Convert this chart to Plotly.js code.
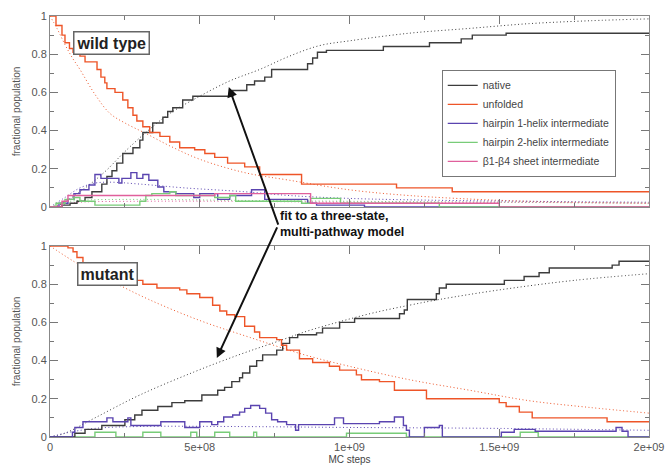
<!DOCTYPE html>
<html>
<head>
<meta charset="utf-8">
<script src="https://cdn.plot.ly/plotly-3.0.1.min.js"></script>
<style>html,body{margin:0;padding:0;background:#fff}#chart{width:665px;height:465px}</style>
</head>
<body>
<div id="chart"></div>
<script>
// x values in units of 1e9 MC steps
const xTickVals = [0, 0.5, 1, 1.5, 2];
const xTickText = ["0", "5e+08", "1e+09", "1.5e+09", "2e+09"];
const seriesNames = ["native", "unfolded", "hairpin 1-helix intermediate", "hairpin 2-helix intermediate", "β1-β4 sheet intermediate"];

// ---- wild type (top panel) ----
const wtNativeX = [0, 0.04, 0.067, 0.09, 0.117, 0.14, 0.173, 0.19, 0.207, 0.223, 0.243, 0.277, 0.3, 0.31, 0.343, 0.377, 0.393, 0.41, 0.443, 0.477, 0.61, 0.657, 0.683, 0.717, 0.74, 0.86, 0.877, 0.893, 0.923, 1.113, 1.267, 1.373, 1.41, 1.523, 2.0];
const wtNativeY = [0, 0.01, 0.02, 0.03, 0.05, 0.08, 0.12, 0.16, 0.19, 0.23, 0.28, 0.31, 0.35, 0.39, 0.44, 0.47, 0.50, 0.52, 0.56, 0.58, 0.61, 0.64, 0.66, 0.68, 0.72, 0.75, 0.78, 0.81, 0.82, 0.84, 0.86, 0.88, 0.90, 0.91, 0.91];
const wtUnfX = [0, 0.02, 0.04, 0.05, 0.065, 0.077, 0.1, 0.117, 0.157, 0.17, 0.183, 0.19, 0.217, 0.243, 0.26, 0.277, 0.29, 0.31, 0.333, 0.367, 0.4, 0.433, 0.483, 0.517, 0.55, 0.593, 0.65, 0.7, 0.84, 1.157, 1.343, 2.0];
const wtUnfY = [1.0, 0.95, 0.9, 0.86, 0.83, 0.81, 0.79, 0.76, 0.72, 0.68, 0.65, 0.62, 0.60, 0.56, 0.52, 0.48, 0.45, 0.42, 0.39, 0.37, 0.34, 0.31, 0.30, 0.28, 0.26, 0.23, 0.21, 0.17, 0.12, 0.10, 0.08, 0.08];
const wtH1X = [0, 0.03, 0.06, 0.08, 0.1, 0.13, 0.15, 0.17, 0.23, 0.24, 0.27, 0.29, 0.31, 0.33, 0.36, 0.38, 0.42, 0.48, 0.5, 0.56, 0.6, 0.673, 0.717, 0.86, 0.89, 1.05, 2.0];
const wtH1Y = [0, 0.02, 0.04, 0.07, 0.09, 0.115, 0.17, 0.15, 0.125, 0.15, 0.18, 0.15, 0.17, 0.14, 0.105, 0.08, 0.07, 0.05, 0.07, 0.04, 0.06, 0.09, 0.04, 0.02, 0.01, 0, 0];
const wtH2X = [0, 0.02, 0.05, 0.08, 0.1, 0.15, 0.3, 0.32, 0.34, 0.4, 0.42, 0.55, 0.6, 0.62, 0.84, 0.87, 0.97, 1.3, 2.0];
const wtH2Y = [0, 0.02, 0.04, 0.05, 0.03, 0.01, 0.03, 0.06, 0.07, 0.08, 0.06, 0.05, 0.06, 0.03, 0.02, 0.045, 0.02, 0, 0];
const wtSheetX = [0, 0.04, 0.06, 0.55, 0.87, 1.5, 2.0];
const wtSheetY = [0, 0.03, 0.06, 0.07, 0.02, 0, 0];
// fitted curves (dotted)
const wtFitNativeX = [0, 0.03, 0.1, 0.18, 0.25, 0.32, 0.4, 0.5, 0.6, 0.7, 0.8, 0.9, 1.0, 1.2, 1.4, 1.6, 1.8, 2.0];
const wtFitNativeY = [0, 0.01, 0.08, 0.18, 0.29, 0.39, 0.49, 0.58, 0.66, 0.72, 0.79, 0.845, 0.87, 0.91, 0.935, 0.96, 0.975, 0.985];
const wtFitUnfX = [0, 0.025, 0.05, 0.075, 0.1, 0.15, 0.2, 0.25, 0.32, 0.4, 0.5, 0.65, 0.8, 1.0, 1.2, 1.5, 1.75, 2.0];
const wtFitUnfY = [1.0, 0.93, 0.85, 0.78, 0.72, 0.59, 0.49, 0.44, 0.385, 0.32, 0.25, 0.18, 0.14, 0.09, 0.06, 0.035, 0.025, 0.02];
const wtFitH1X = [0, 0.05, 0.1, 0.15, 0.2, 0.3, 0.45, 0.65, 0.8, 1.0, 1.3, 1.6, 2.0];
const wtFitH1Y = [0, 0.05, 0.1, 0.125, 0.13, 0.12, 0.10, 0.08, 0.06, 0.045, 0.035, 0.03, 0.025];
const wtFitH2X = [0, 0.05, 0.1, 0.3, 0.6, 1.0, 1.5, 2.0];
const wtFitH2Y = [0, 0.025, 0.035, 0.04, 0.035, 0.03, 0.025, 0.02];
const wtFitSheetX = [0, 0.05, 0.1, 0.3, 0.6, 1.0, 1.5, 2.0];
const wtFitSheetY = [0, 0.015, 0.025, 0.03, 0.03, 0.025, 0.025, 0.02];

// ---- mutant (bottom panel) ----
const mtNativeX = [0, 0.083, 0.117, 0.173, 0.25, 0.283, 0.307, 0.36, 0.407, 0.45, 0.507, 0.56, 0.583, 0.607, 0.633, 0.643, 0.667, 0.69, 0.71, 0.757, 0.777, 0.8, 0.827, 0.89, 0.91, 0.967, 1.017, 1.167, 1.183, 1.193, 1.29, 1.3, 1.323, 1.517, 1.583, 1.633, 1.667, 1.877, 1.9, 2.0];
const mtNativeY = [0, 0.02, 0.04, 0.06, 0.09, 0.115, 0.14, 0.16, 0.18, 0.19, 0.22, 0.245, 0.26, 0.29, 0.31, 0.335, 0.37, 0.40, 0.43, 0.455, 0.49, 0.52, 0.535, 0.545, 0.57, 0.60, 0.62, 0.645, 0.665, 0.72, 0.75, 0.78, 0.80, 0.82, 0.84, 0.86, 0.885, 0.90, 0.92, 0.92];
const mtUnfX = [0, 0.06, 0.077, 0.09, 0.11, 0.133, 0.167, 0.2, 0.243, 0.277, 0.31, 0.357, 0.433, 0.457, 0.5, 0.543, 0.567, 0.59, 0.617, 0.65, 0.683, 0.7, 0.757, 0.773, 0.79, 0.833, 0.877, 0.933, 0.967, 1.023, 1.04, 1.1, 1.15, 1.257, 1.5, 1.523, 1.567, 1.61, 1.86, 2.0];
const mtUnfY = [1.0, 0.99, 0.97, 0.94, 0.91, 0.87, 0.86, 0.85, 0.83, 0.82, 0.80, 0.78, 0.77, 0.75, 0.73, 0.69, 0.66, 0.64, 0.63, 0.58, 0.55, 0.52, 0.51, 0.48, 0.455, 0.41, 0.39, 0.37, 0.35, 0.325, 0.30, 0.29, 0.245, 0.20, 0.18, 0.16, 0.13, 0.10, 0.08, 0.08];
const mtH1X = [0, 0.06, 0.075, 0.083, 0.11, 0.19, 0.21, 0.26, 0.27, 0.37, 0.45, 0.5, 0.54, 0.56, 0.58, 0.61, 0.633, 0.65, 0.67, 0.70, 0.72, 0.74, 0.76, 0.79, 0.82, 0.83, 0.95, 0.98, 1.1, 1.15, 1.18, 1.19, 1.2, 1.25, 1.3, 1.31, 1.507, 1.55, 1.62, 1.89, 1.91, 1.93, 2.0];
const mtH1Y = [0, 0, 0.025, 0.05, 0.08, 0.10, 0.08, 0.10, 0.06, 0.08, 0.05, 0.08, 0.065, 0.08, 0.105, 0.115, 0.13, 0.15, 0.165, 0.15, 0.125, 0.09, 0.08, 0.065, 0.035, 0.065, 0.10, 0.07, 0.08, 0.105, 0.06, 0.035, 0, 0.05, 0.06, 0, 0.025, 0.04, 0.03, 0.05, 0.03, 0, 0];
const mtH2X = [0, 0.15, 0.22, 0.31, 0.37, 0.47, 0.49, 0.55, 0.6, 0.68, 0.69, 0.99, 1.19, 1.57, 1.63, 2.0];
const mtH2Y = [0, 0.025, 0, 0.025, 0, 0.025, 0, 0.025, 0, 0.025, 0, 0.02, 0, 0.025, 0, 0];
const mtFitNativeX = [0, 0.05, 0.15, 0.3, 0.48, 0.63, 0.75, 0.86, 0.97, 1.08, 1.2, 1.3, 1.5, 1.75, 2.0];
const mtFitNativeY = [0, 0.02, 0.1, 0.22, 0.34, 0.43, 0.495, 0.555, 0.605, 0.65, 0.69, 0.72, 0.77, 0.82, 0.855];
const mtFitUnfX = [0, 0.1, 0.2, 0.33, 0.5, 0.67, 0.85, 1.0, 1.2, 1.4, 1.6, 1.8, 2.0];
const mtFitUnfY = [1.0, 0.9, 0.82, 0.72, 0.61, 0.52, 0.43, 0.37, 0.30, 0.245, 0.19, 0.155, 0.125];
const mtFitH1X = [0, 0.05, 0.15, 0.3, 0.6, 1.0, 1.5, 2.0];
const mtFitH1Y = [0, 0.02, 0.045, 0.055, 0.055, 0.05, 0.045, 0.035];

const C = {nat: '#3c3c3c', unf: '#ee5528', h1: '#5a44b0', h2: '#78cc78', sh: '#e0609c'};

function step(x, y, color, name, xa, ya, legend) {
  return {x: x, y: y, type: 'scatter', mode: 'lines', line: {shape: 'hv', color: color, width: 1.4},
          name: name, showlegend: legend, xaxis: xa, yaxis: ya, hoverinfo: 'skip'};
}
function fit(x, y, color, xa, ya) {
  return {x: x, y: y, type: 'scatter', mode: 'lines', line: {shape: 'spline', color: color, width: 1, dash: '1px,2.5px'},
          showlegend: false, xaxis: xa, yaxis: ya, hoverinfo: 'skip'};
}

const data = [
  fit(wtFitNativeX, wtFitNativeY, C.nat, 'x2', 'y2'),
  fit(wtFitUnfX, wtFitUnfY, C.unf, 'x2', 'y2'),
  fit(wtFitH1X, wtFitH1Y, C.h1, 'x2', 'y2'),
  fit(wtFitH2X, wtFitH2Y, C.h2, 'x2', 'y2'),
  fit(wtFitSheetX, wtFitSheetY, C.sh, 'x2', 'y2'),
  step(wtNativeX, wtNativeY, C.nat, seriesNames[0], 'x2', 'y2', true),
  step(wtUnfX, wtUnfY, C.unf, seriesNames[1], 'x2', 'y2', true),
  step(wtH1X, wtH1Y, C.h1, seriesNames[2], 'x2', 'y2', true),
  step(wtH2X, wtH2Y, C.h2, seriesNames[3], 'x2', 'y2', true),
  step(wtSheetX, wtSheetY, C.sh, seriesNames[4], 'x2', 'y2', true),
  fit(mtFitNativeX, mtFitNativeY, C.nat, 'x', 'y'),
  fit(mtFitUnfX, mtFitUnfY, C.unf, 'x', 'y'),
  fit(mtFitH1X, mtFitH1Y, C.h1, 'x', 'y'),
  step(mtH2X, mtH2Y, C.h2, seriesNames[3], 'x', 'y', false),
  step(mtNativeX, mtNativeY, C.nat, seriesNames[0], 'x', 'y', false),
  step(mtUnfX, mtUnfY, C.unf, seriesNames[1], 'x', 'y', false),
  step(mtH1X, mtH1Y, C.h1, seriesNames[2], 'x', 'y', false)
];

const tickFont = {family: 'Liberation Sans, Arial, sans-serif', size: 11, color: '#555'};
function xAxis(anchor, labels) {
  const ax = {anchor: anchor, range: [0, 2], tickmode: 'array', tickvals: xTickVals, ticktext: xTickText,
    showticklabels: labels, ticks: 'inside', ticklen: 8, tickwidth: 1, tickcolor: '#777',
    minor: {ticks: 'inside', ticklen: 4, dtick: 0.25, tick0: 0, tickcolor: '#777'},
    showline: true, linecolor: '#888', linewidth: 1, mirror: 'ticks', showgrid: false, zeroline: false,
    tickfont: tickFont, domain: [0, 1]};
  if (anchor === 'y2') ax.matches = 'x';
  if (labels) ax.title = {text: 'MC steps', font: {family: 'Liberation Sans, Arial, sans-serif', size: 10, color: '#444'}, standoff: 3};
  return ax;
}
function yAxis(anchor, domain) {
  return {anchor: anchor, domain: domain, range: [0, 1], dtick: 0.2, tick0: 0,
    ticks: 'inside', ticklen: 8, tickwidth: 1, tickcolor: '#777',
    minor: {ticks: 'inside', ticklen: 4, dtick: 0.1, tick0: 0, tickcolor: '#777'},
    showline: true, linecolor: '#888', linewidth: 1, mirror: 'ticks', showgrid: false, zeroline: false,
    tickfont: tickFont,
    title: {text: 'fractional population', font: {family: 'Liberation Sans, Arial, sans-serif', size: 10, color: '#555'}, standoff: 8}};
}

const boxFont = {family: 'Liberation Sans, Arial, sans-serif', size: 16, color: '#222'};
const layout = {
  width: 665, height: 465,
  margin: {l: 50, r: 16, t: 16, b: 28},
  paper_bgcolor: '#fff', plot_bgcolor: '#fff',
  xaxis: xAxis('y', true),
  yaxis: yAxis('x', [0, 0.4537]),
  xaxis2: xAxis('y2', false),
  yaxis2: yAxis('x2', [0.5463, 1]),
  showlegend: true,
  legend: {x: 0.654, y: 0.872, xanchor: 'left', yanchor: 'top', bgcolor: '#fff', bordercolor: '#777', borderwidth: 1,
           font: {family: 'Liberation Sans, Arial, sans-serif', size: 10.5, color: '#444'}, tracegroupgap: 0, itemwidth: 30},
  annotations: [
    {xref: 'paper', yref: 'paper', x: 0.1035, y: 0.9347, xanchor: 'center', yanchor: 'middle', text: '<b>wild type</b>', showarrow: false, font: boxFont,
     bordercolor: '#666', borderwidth: 1.5, borderpad: 2, bgcolor: '#fff'},
    {xref: 'paper', yref: 'paper', x: 0.0968, y: 0.386, xanchor: 'center', yanchor: 'middle', text: '<b>mutant</b>', showarrow: false, font: boxFont,
     bordercolor: '#666', borderwidth: 1.5, borderpad: 2, bgcolor: '#fff'},
    {xref: 'paper', yref: 'paper', x: 0.38, y: 0.506, xanchor: 'left', yanchor: 'middle', align: 'left',
     text: '<b>fit to a three-state,<br>multi-pathway model</b>', showarrow: false,
     font: {family: 'Liberation Sans, Arial, sans-serif', size: 12.5, color: '#111'}},
    {xref: 'x2', yref: 'y2', x: 0.597, y: 0.628, text: '', showarrow: true, arrowhead: 2, arrowsize: 1, arrowwidth: 2,
     arrowcolor: '#111', ax: 50, ay: 139, standoff: 0},
    {xref: 'x', yref: 'y', x: 0.557, y: 0.414, text: '', showarrow: true, arrowhead: 2, arrowsize: 1, arrowwidth: 2,
     arrowcolor: '#111', ax: 61, ay: -132, standoff: 0}
  ]
};

Plotly.newPlot('chart', data, layout, {staticPlot: true, displayModeBar: false});
</script>
</body>
</html>
